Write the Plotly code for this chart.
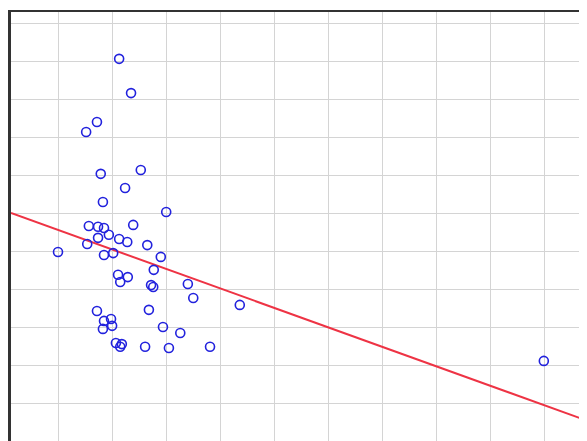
import plotly.graph_objects as go
import numpy as np

x_vals = [2.13, 2.35, 1.72, 1.52, 1.79, 2.53, 2.24, 1.83, 3.00, 2.39,
          1.57, 1.74, 1.85, 1.00, 1.54, 1.74, 1.94, 2.13, 2.28, 1.85,
          2.02, 2.65, 2.90, 2.77, 2.11, 2.29, 2.15, 2.72, 2.76, 3.40,
          3.50, 4.36, 1.72, 2.68, 1.98, 1.85, 1.83, 2.00, 2.94, 3.26,
          2.07, 2.18, 2.15, 2.61, 3.05, 3.81, 9.98]
y_vals = [9.06, 8.16, 7.40, 7.14, 6.04, 6.14, 5.67, 5.30, 5.04, 4.70,
          4.67, 4.65, 4.62, 3.99, 4.20, 4.36, 4.44, 4.33, 4.25, 3.91,
          3.96, 4.17, 3.86, 3.52, 3.39, 3.33, 3.20, 3.12, 3.07, 3.15,
          2.78, 2.60, 2.44, 2.47, 2.23, 2.18, 1.97, 2.05, 2.02, 1.86,
          1.60, 1.57, 1.50, 1.50, 1.47, 1.50, 1.13]

fit_intercept = 5.08
fit_slope = -0.512

x_range = [0.131, 10.852]
y_range = [-1.0, 10.29]

line_x = np.array(x_range)
line_y = fit_intercept + fit_slope * line_x

fig = go.Figure()
fig.add_trace(go.Scatter(x=line_x, y=line_y, mode="lines",
                         line=dict(color="#ee3344", width=2), showlegend=False))
fig.add_trace(go.Scatter(x=x_vals, y=y_vals, mode="markers",
                         marker=dict(symbol="circle-open", size=9,
                                     color="#2222dd", line=dict(width=1.6)),
                         showlegend=False))

fig.update_layout(
    width=587, height=441,
    margin=dict(l=3, t=4, r=4, b=7),
    paper_bgcolor="white", plot_bgcolor="white",
    xaxis=dict(range=x_range, tick0=0, dtick=1, showgrid=True,
               gridcolor="#d4d4d4", gridwidth=1, zeroline=False,
               showticklabels=False, ticks="", side="top",
               showline=True, linecolor="#333333", linewidth=2),
    yaxis=dict(range=y_range, tick0=0, dtick=1, showgrid=True,
               gridcolor="#d4d4d4", gridwidth=1, zeroline=False,
               showticklabels=False, ticks="",
               showline=True, linecolor="#333333", linewidth=3),
)
fig.write_html("out.html")
